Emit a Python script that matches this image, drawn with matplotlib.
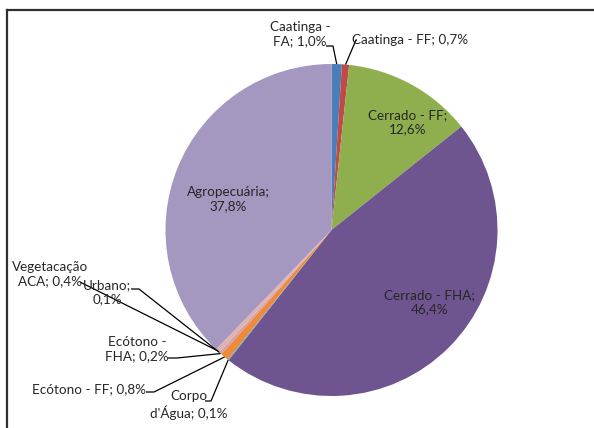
import matplotlib
matplotlib.use("Agg")
import matplotlib.pyplot as plt
import numpy as np
from matplotlib.lines import Line2D

plt.rcParams['font.family'] = ['Lato', 'DejaVu Sans']

categorias = ["Caatinga - FA", "Caatinga - FF", "Cerrado - FF", "Cerrado - FHA",
              "Corpo d'Água", "Ecótono - FF", "Ecótono - FHA", "Urbano",
              "Vegetacação ACA", "Agropecuária"]
valores = [1.0, 0.7, 12.6, 46.4, 0.1, 0.8, 0.2, 0.1, 0.4, 37.8]
rotulos = ["Caatinga -\nFA; 1,0%", "Caatinga - FF; 0,7%", "Cerrado - FF;\n12,6%",
           "Cerrado - FHA;\n46,4%", "Corpo\nd'Água; 0,1%", "Ecótono - FF; 0,8%",
           "Ecótono -\nFHA; 0,2%", "Urbano;\n0,1%", "Vegetacação\nACA; 0,4%",
           "Agropecuária;\n37,8%"]
cores = ["#4A7EBB", "#BE4B48", "#8FAF4E", "#6F5590", "#4BACC6", "#EE8A3C",
         "#DB9A96", "#B3A2C7", "#E3B0B0", "#A598C0"]

W, H = 594, 428
fig = plt.figure(figsize=(W / 100, H / 100), dpi=100)
ax = fig.add_axes([0, 0, 1, 1])


def px(x, y):
    # pixel position (top-left origin) -> axes data
    return x, H - y


cx, cy = px(331.5, 230)
raio = 166
wedges, _ = ax.pie(valores, colors=cores, startangle=90, counterclock=False,
                   center=(cx, cy), radius=raio, frame=True,
                   wedgeprops=dict(linewidth=0))
ax.set_xlim(0, W)
ax.set_ylim(0, H)
ax.set_aspect('equal')
ax.axis('off')

cor_txt = '#262626'
fs = 9.7

# rótulos dentro das fatias grandes
dentro = {2: (408, 122), 3: (430, 302), 9: (228, 199)}
for i, (x, y) in dentro.items():
    ax.text(*px(x, y), rotulos[i], ha='center', va='center', fontsize=fs,
            color=cor_txt, linespacing=1.25)

# rótulos externos: posição do texto e início da linha guia (com traço horizontal)
fora = {
    0: ((300, 34), [(326, 46), (333, 46)]),
    1: ((410, 40), [(357, 40), (356, 40)]),
    4: ((189, 405), [(205, 401), (211, 401)]),
    5: ((89, 389), [(146, 392), (154, 392)]),
    6: ((137, 349), [(168, 358), (177, 358)]),
    7: ((107, 292), [(131, 289), (139, 289)]),
    8: ((50, 274), [(80, 282), (80, 282)]),
}
for i, ((x, y), guia) in fora.items():
    ax.text(*px(x, y), rotulos[i], ha='center', va='center', fontsize=fs,
            color=cor_txt, linespacing=1.25)
    w = wedges[i]
    ang = np.deg2rad((w.theta1 + w.theta2) / 2)
    bx = cx + raio * np.cos(ang)
    by = cy + raio * np.sin(ang)
    pts = [px(*p) for p in guia] + [(bx, by)]
    xs, ys = zip(*pts)
    ax.plot(xs, ys, color='black', lw=0.9, solid_capstyle='butt')

# borda do gráfico (superior e esquerda)
fig.add_artist(Line2D([7 / W, 1], [1 - 10 / H, 1 - 10 / H], transform=fig.transFigure,
                      color='#303030', lw=1.6))
fig.add_artist(Line2D([7 / W, 7 / W], [0, 1 - 10 / H], transform=fig.transFigure,
                      color='#303030', lw=1.6))

fig.savefig("out.png", dpi=100, facecolor='white')
